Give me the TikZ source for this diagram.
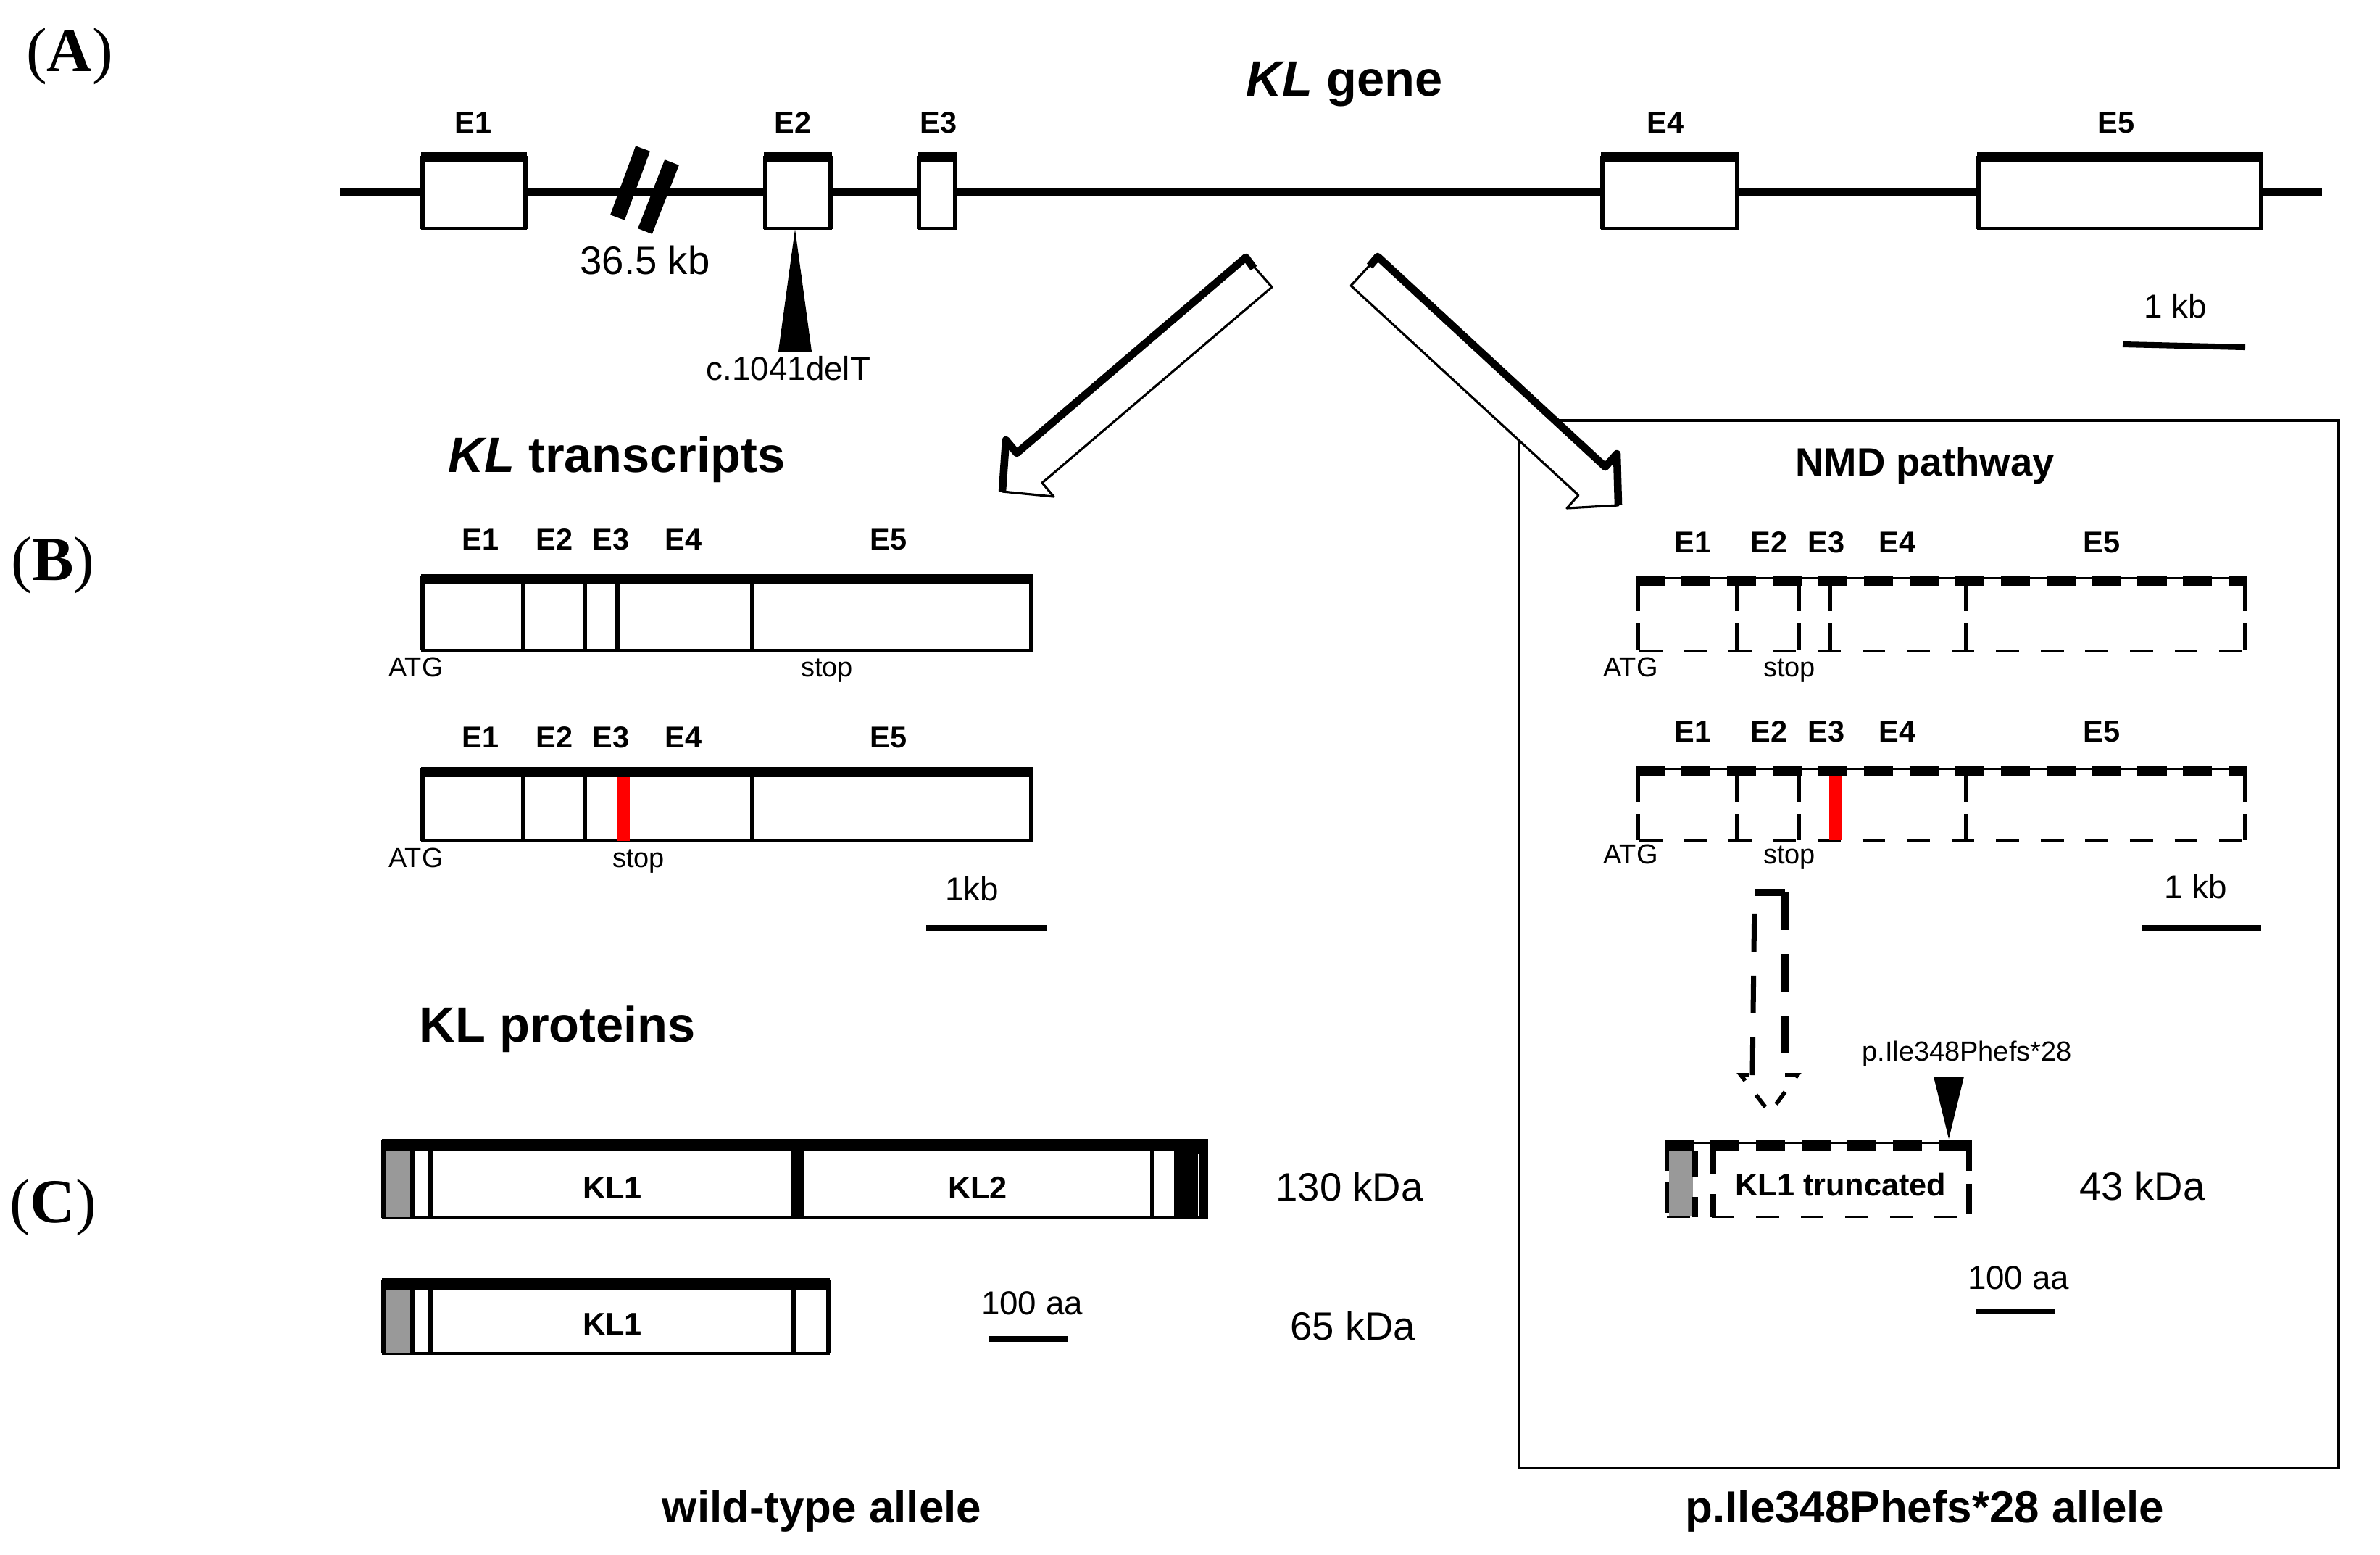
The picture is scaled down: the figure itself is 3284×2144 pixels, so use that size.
\documentclass[tikz,border=0pt]{standalone}
\usepackage{fontspec}
\setmainfont{Liberation Sans}
\newfontfamily\panelfont{Liberation Serif}
\definecolor{mutred}{RGB}{255,0,0}
\definecolor{sigpep}{RGB}{153,153,153}

\tikzset{
  paneltxt/.style={inner sep=0pt, anchor=base, font=\panelfont\fontsize{24.5}{28}\selectfont},
  headtxt/.style={inner sep=0pt, anchor=base, font=\fontsize{19.5}{23}\selectfont\bfseries},
  boxhead/.style={inner sep=0pt, anchor=base, font=\fontsize{15.5}{18}\selectfont\bfseries},
  exlbl/.style={inner sep=0pt, anchor=base, font=\fontsize{11.8}{13}\selectfont\bfseries},
  sitetxt/.style={inner sep=0pt, anchor=base, font=\fontsize{10.8}{12}\selectfont},
  bartxt/.style={inner sep=0pt, anchor=base, font=\fontsize{13}{15}\selectfont},
  kdatxt/.style={inner sep=0pt, anchor=base, font=\fontsize{15.5}{18}\selectfont},
  domtxt/.style={inner sep=0pt, anchor=base, font=\fontsize{12.3}{14}\selectfont\bfseries},
  alleletxt/.style={inner sep=0pt, anchor=base, font=\fontsize{17.6}{20}\selectfont\bfseries},
  scalebar/.style={line width=2.3pt},
  thickdash/.style={line width=4pt, dash pattern=on 11.4pt off 6.5pt},
  thindash/.style={line width=0.85pt, dash pattern=on 9pt off 8.5pt},
  sidedash/.style={line width=1.8pt, dash pattern=on 13pt off 5pt}
}

\begin{document}
\begin{tikzpicture}[x=0.01cm, y=-0.01cm]
\useasboundingbox (0,0) rectangle (3284,2144);

% panel letters
\begin{scope}[every node/.style={paneltxt}]
\node (pA) at (96,98) {(\textbf{A})};
\node (pB) at (73,800) {(\textbf{B})};
\node (pC) at (73,1686) {(\textbf{C})};
\end{scope}

% (A) KL gene
\node[headtxt] (gtitle) at (1855,132) {\textit{KL} gene};
\draw[line width=2.8pt] (469,265) -- (3204,265);
\foreach \a/\b in {583/725,1056/1146,1268/1318,2211/2397,2730/3120}{
  \filldraw[fill=white, line width=0.9pt] (\a,215) rectangle (\b,315);
  \draw[line width=1.7pt] (\a,215) -- (\a,316) (\b,215) -- (\b,316);
  \fill (\a-2,209) rectangle (\b+2,224);
}
\draw[line width=6pt] (887,205) -- (852,300);
\draw[line width=6pt] (927,224) -- (890,319);
\begin{scope}[every node/.style={exlbl}]
\node (gE1) at (653,183) {E1};
\node (gE2) at (1094,183) {E2};
\node (gE3) at (1295,183) {E3};
\node (gE4) at (2298,183) {E4};
\node (gE5) at (2920,183) {E5};
\end{scope}
\node[kdatxt] (gap) at (890,378) {36.5 kb};
\node[bartxt] (cdel) at (1088,524) {c.1041delT};
\fill (1097,316) -- (1120,485) -- (1074,485) -- cycle;
\node[bartxt] (gkb) at (3002,438) {1 kb};
\draw[scalebar] (2929,475) -- (3098,479);

% NMD frame
\draw[line width=1.1pt] (2096,580) rectangle (3227,2025);

% hollow arrows
\coordinate (LA) at (1719,355);
\coordinate (LB) at (1755,396);
\coordinate (LC) at (1438,666);
\coordinate (LD) at (1454,685);
\coordinate (LE) at (1383,678);
\coordinate (LF) at (1388,607);
\coordinate (LG) at (1403,625);
\filldraw[fill=white, line width=0.9pt, line join=round] (LA) -- (LB) -- (LC) -- (LD) -- (LE) -- (LF) -- (LG) -- cycle;
\draw[line width=3pt, line join=round] (LE) -- (LF) -- (LG) -- (LA) -- (1730,370);

\coordinate (RA) at (1901,354);
\coordinate (RB) at (1864,394);
\coordinate (RC) at (2178,683);
\coordinate (RD) at (2162,701);
\coordinate (RE) at (2233,697);
\coordinate (RF) at (2231,626);
\coordinate (RG) at (2215,644);
\filldraw[fill=white, line width=0.9pt, line join=round] (RA) -- (RB) -- (RC) -- (RD) -- (RE) -- (RF) -- (RG) -- cycle;
\draw[line width=3pt, line join=round] (RE) -- (RF) -- (RG) -- (RA) -- (1890,367);

% (B) KL transcripts, wild-type
\node[headtxt, anchor=base west] (ttitle) at (618,651) {\textit{KL} transcripts};
\foreach \ya/\yb in {794/897,1060/1160}{
  \filldraw[fill=white, line width=1pt] (583,\ya) rectangle (1423,\yb);
  \draw[line width=1.8pt] (583,\ya) -- (583,\yb) (1423,\ya) -- (1423,\yb);
  \foreach \x in {722,807,1038}
    \draw[line width=1.6pt] (\x,\ya) -- (\x,\yb);
  \fill (581,\ya) rectangle (1425,\ya+12);
}
\draw[line width=1.6pt] (852,794) -- (852,897);
\fill[mutred] (851,1072) rectangle (869,1160);
\begin{scope}[every node/.style={exlbl}]
\node (tE1) at (663,758) {E1};
\node (tE2) at (765,758) {E2};
\node (tE3) at (843,758) {E3};
\node (tE4) at (943,758) {E4};
\node (tE5) at (1226,758) {E5};
\node (mE1) at (663,1031) {E1};
\node (mE2) at (765,1031) {E2};
\node (mE3) at (843,1031) {E3};
\node (mE4) at (943,1031) {E4};
\node (mE5) at (1226,1031) {E5};
\end{scope}
\begin{scope}[every node/.style={sitetxt}]
\node (tATG) at (574,933) {ATG};
\node (tstop) at (1141,933) {stop};
\node (mATG) at (574,1196) {ATG};
\node (mstop) at (881,1196) {stop};
\end{scope}
\node[bartxt] (tkb) at (1341,1242) {1kb};
\draw[scalebar] (1278,1280) -- (1444,1280);

% (B) NMD pathway, mutant
\node[boxhead] (nmd) at (2656,656) {NMD pathway};
\foreach \ya/\yb in {797/897,1060/1159}{
  \draw[line width=0.85pt] (2260,\ya) -- (3098,\ya);
  \draw[thickdash] (2257,\ya+4) -- (3100,\ya+4);
  \draw[thindash] (2262,\yb) -- (3098,\yb);
  \foreach \x in {2260,2397,2482,2713,3098}
    \draw[sidedash] (\x,\ya) -- (\x,\yb);
}
\draw[sidedash] (2525,797) -- (2525,897);
\fill[mutred] (2524,1070) rectangle (2542,1159);
\begin{scope}[every node/.style={exlbl}]
\node (nE1) at (2336,762) {E1};
\node (nE2) at (2441,762) {E2};
\node (nE3) at (2520,762) {E3};
\node (nE4) at (2618,762) {E4};
\node (nE5) at (2900,762) {E5};
\node (kE1) at (2336,1023) {E1};
\node (kE2) at (2441,1023) {E2};
\node (kE3) at (2520,1023) {E3};
\node (kE4) at (2618,1023) {E4};
\node (kE5) at (2900,1023) {E5};
\end{scope}
\begin{scope}[every node/.style={sitetxt}]
\node (nATG) at (2250,933) {ATG};
\node (nstop) at (2469,933) {stop};
\node (kATG) at (2250,1191) {ATG};
\node (kstop) at (2469,1191) {stop};
\end{scope}
\node[bartxt] (nkb) at (3030,1239) {1 kb};
\draw[scalebar] (2955,1280) -- (3120,1280);

% dashed block arrow
\coordinate (DA) at (2421,1231);
\coordinate (DB) at (2463,1231);
\coordinate (DC) at (2463,1483);
\coordinate (DD) at (2480,1483);
\coordinate (DE) at (2442,1535);
\coordinate (DF) at (2402,1483);
\coordinate (DG) at (2418,1483);
\draw[line width=2pt, dash pattern=on 14.8pt off 9.4pt] (DG) -- (DA);
\draw[line width=1.6pt, dash pattern=on 6pt off 7pt] (DC) -- (DD) -- (DE) -- (DF) -- (DG);
\draw[line width=3pt] (DA) -- (DB);
\draw[line width=3.5pt, dash pattern=on 14.8pt off 9.4pt] (DB) -- (DC);

% (C) KL proteins
\node[headtxt, anchor=base west] (ptitle) at (578,1437) {KL proteins};
\filldraw[fill=white, line width=0.9pt] (529,1573) rectangle (1665,1680);
\fill[sigpep] (531,1588) rectangle (566,1679);
\draw[line width=1.7pt] (529,1573) -- (529,1680) (569,1588) -- (569,1680) (594,1588) -- (594,1680) (1590,1588) -- (1590,1680);
\draw[line width=5pt] (1101,1588) -- (1101,1680);
\fill (1620,1573) rectangle (1665,1681);
\draw[white, line width=0.6pt] (1654,1592) -- (1654,1677);
\fill (527,1573) rectangle (1667,1588);

\filldraw[fill=white, line width=0.9pt] (529,1765) rectangle (1143,1867);
\fill[sigpep] (531,1780) rectangle (566,1866);
\draw[line width=1.7pt] (529,1765) -- (529,1867) (569,1780) -- (569,1867) (594,1780) -- (594,1867) (1095,1780) -- (1095,1867) (1143,1765) -- (1143,1867);
\fill (527,1765) rectangle (1145,1780);

% truncated protein
\fill[white] (2297,1575) rectangle (2720,1679);
\fill[sigpep] (2303,1588) rectangle (2336,1678);
\draw[line width=0.85pt] (2297,1576) -- (2720,1576);
\draw[line width=4.3pt, dash pattern=on 11.4pt off 6.5pt] (2297,1580) -- (2720,1580);
\draw[thindash] (2300,1678) -- (2720,1678);
\draw[line width=1.8pt, dash pattern=on 12pt off 4.5pt] (2300,1573) -- (2300,1679);
\draw[line width=2.3pt, dash pattern=on 10pt off 8pt] (2339,1588) -- (2339,1679);
\draw[line width=2.3pt, dash pattern=on 12pt off 8pt] (2364,1577) -- (2364,1679);
\draw[line width=2.3pt, dash pattern=on 12pt off 5pt] (2717,1573) -- (2717,1679);
\node[sitetxt] (pmut) at (2714,1463) {p.Ile348Phefs*28};
\fill (2668,1485) -- (2710,1485) -- (2689,1571) -- cycle;

\begin{scope}[every node/.style={domtxt}]
\node (wKL1) at (845,1653) {KL1};
\node (wKL2) at (1349,1653) {KL2};
\node (sKL1) at (845,1841) {KL1};
\node (trunc) at (2540,1649) {KL1 truncated};
\end{scope}
\begin{scope}[every node/.style={kdatxt}]
\node (k130) at (1862,1656) {130 kDa};
\node (k65) at (1867,1848) {65 kDa};
\node (k43) at (2956,1655) {43 kDa};
\end{scope}
\node[bartxt] (waa) at (1424,1813) {100 aa};
\draw[scalebar] (1365,1847) -- (1474,1847);
\node[bartxt] (naa) at (2785,1778) {100 aa};
\draw[scalebar] (2727,1809) -- (2836,1809);

% allele labels
\node[alleletxt] (wt) at (1134,2100) {wild-type allele};
\node[alleletxt] (mt) at (2656,2100) {p.Ile348Phefs*28 allele};
\end{tikzpicture}
\end{document}
